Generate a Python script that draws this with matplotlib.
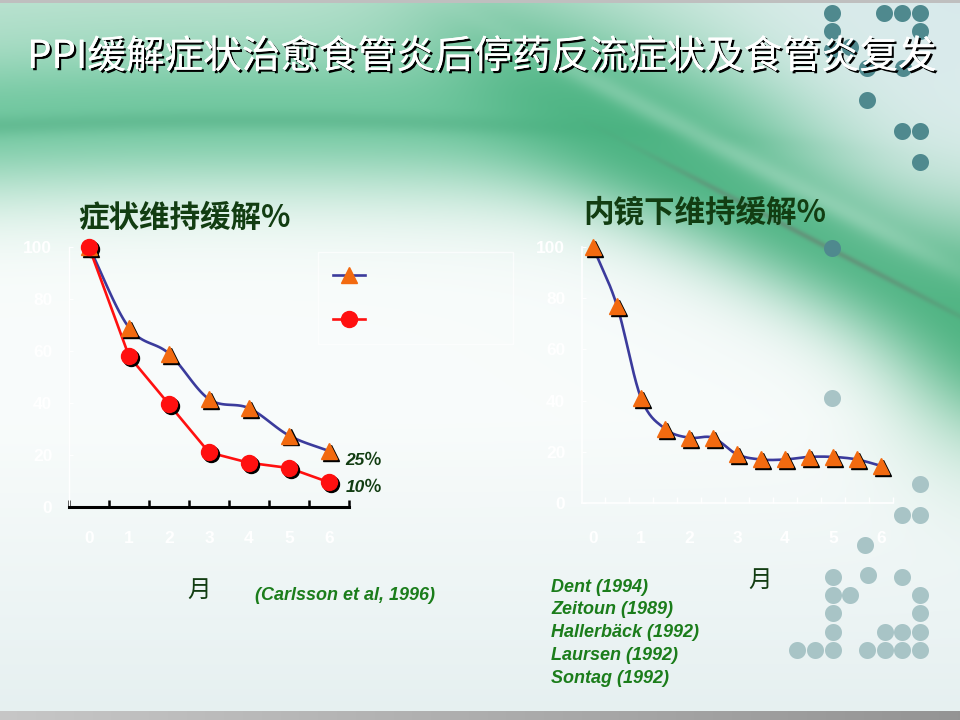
import numpy as np
import matplotlib
matplotlib.use("Agg")
import matplotlib.pyplot as plt
from matplotlib import patheffects as pe
from matplotlib import transforms as mtransforms
from matplotlib.lines import Line2D

# ---------------- data ----------------
title = "PPI缓解症状治愈食管炎后停药反流症状及食管炎复发"
left_title = "症状维持缓解%"
right_title = "内镜下维持缓解%"
x_label = "月"
months = [0, 1, 2, 3, 4, 5, 6]
symptom_triangle = [100, 69, 59, 41.5, 38, 27.5, 21.5]
symptom_circle = [100, 58, 39.5, 21, 17, 15, 9.5]
end_labels = ["25％", "10％"]
endo_months = [0, 0.5, 1, 1.5, 2, 2.5, 3, 3.5, 4, 4.5, 5, 5.5, 6]
endo_values = [100, 77, 41, 29, 25.5, 25.5, 19, 17, 17, 18, 18, 17, 14.5]
y_ticks = [0, 20, 40, 60, 80, 100]
left_source = "(Carlsson et al, 1996)"
citations = ["Dent (1994)", "Zeitoun (1989)", "Hallerbäck (1992)",
             "Laursen (1992)", "Sontag (1992)"]

CJK = ["Noto Sans CJK SC", "DejaVu Sans"]
LAT = ["Liberation Sans", "DejaVu Sans"]
BLUE = "#3b3b9c"
ORANGE = "#f26a10"
RED = "#ff1010"
DKGREEN = "#123d12"
CITE = "#1b7d1b"

W, H = 960, 720
fig = plt.figure(figsize=(9.6, 7.2), dpi=100)

# ---------------- background ----------------
yy, xx = np.mgrid[0:H, 0:W].astype(float)
img = np.empty((H, W, 3))
img[:] = (0.975, 0.988, 0.985)


def blend(im, color, a):
    a = np.clip(a, 0, 1)[..., None]
    return im * (1 - a) + np.array(color) * a


def sig(v):
    return 1.0 / (1.0 + np.exp(-v))


img = blend(img, (0.86, 0.915, 0.92), np.clip((yy - 420) / 320, 0, 1) * 0.7)
img = blend(img, (0.83, 0.905, 0.915),
            0.85 * np.exp(-(((xx - 980) / 330) ** 2 + ((yy + 20) / 260) ** 2)))
# top mint wash
img = blend(img, (0.62, 0.84, 0.74), 0.55 * np.exp(-(yy / 70) ** 2) * sig((720 - xx) / 60))
# broad arc band (left/top)
yA = 112 + 0.00008 * (xx - 260) ** 2
dA = yy - yA
sA = np.where(dA < 0, 85, 80)
aA = 0.85 * np.exp(-(dA / sA) ** 2) * sig((760 - xx) / 60)
img = blend(img, (0.36, 0.75, 0.57), aA)
img = blend(img, (0.25, 0.62, 0.45), 0.3 * np.exp(-((dA - 8) / 10) ** 2) * sig((700 - xx) / 60))
# diagonal swoosh
yB = 160 + 0.52 * (xx - 660)
dB = yy - yB
sB = np.where(dB < 0, 95, 75)
aB = 0.88 * np.exp(-(dB / sB) ** 2) * sig((xx - 470) / 50)
img = blend(img, (0.27, 0.69, 0.49), aB)
img = blend(img, (0.75, 0.90, 0.83), 0.35 * np.exp(-((dB + 45) / 12) ** 2) * sig((xx - 520) / 40))
img = blend(img, (0.42, 0.47, 0.43), 0.5 * np.exp(-(dB / 3.5) ** 2) * sig((xx - 680) / 30))
# right edge glow
aC = 0.75 * np.exp(-((xx - 1000) / 100) ** 2) * np.exp(-((yy - 330) / 120) ** 2)
img = blend(img, (0.30, 0.70, 0.50), aC)
# decorative dots
dark_dots = [(832, 13), (832, 31), (884, 13), (902, 13), (920, 13), (920, 31),
             (832, 50), (850, 47), (867, 68), (903, 68), (867, 100), (902, 131),
             (920, 131), (920, 162), (832, 248)]
light_dots = [(832, 398), (920, 484), (902, 515), (920, 515), (865, 545),
              (833, 577), (868, 575), (902, 577), (833, 595), (850, 595), (920, 595),
              (833, 613), (920, 613), (833, 632), (885, 632), (902, 632), (920, 632),
              (797, 650), (815, 650), (833, 650), (867, 650), (885, 650), (902, 650),
              (920, 650)]
for (cx, cy) in dark_dots:
    d = np.hypot(xx - cx, yy - cy)
    img = blend(img, (0.31, 0.54, 0.56), np.clip(9 - d, 0, 1))
for (cx, cy) in light_dots:
    d = np.hypot(xx - cx, yy - cy)
    img = blend(img, (0.66, 0.77, 0.78), np.clip(9 - d, 0, 1))
# gray bars
img[711:, :] = np.linspace(0.78, 0.58, W)[None, :, None]
img[:3, :] = 0.75

bg = fig.add_axes([0, 0, 1, 1], zorder=-10)
bg.imshow(img, aspect="auto", interpolation="bilinear")
bg.set_axis_off()

# ---------------- titles ----------------
fig.text(482 / W, 1 - 57 / H, title, family=CJK, fontsize=27.8, color="white",
         ha="center", va="center",
         path_effects=[pe.withSimplePatchShadow(offset=(1.6, -1.6), shadow_rgbFace="black", alpha=1.0),
                       pe.Normal()])
fig.text(78 / W, 1 - 218 / H, left_title, family=CJK, fontsize=22, weight="bold",
         color=DKGREEN, ha="left", va="center")
fig.text(583 / W, 1 - 212 / H, right_title, family=CJK, fontsize=22, weight="bold",
         color=DKGREEN, ha="left", va="center")


def catmull(xs, ys, n=20):
    P = np.column_stack([xs, ys]).astype(float)
    P = np.vstack([2 * P[0] - P[1], P, 2 * P[-1] - P[-2]])
    out = []
    t = np.linspace(0, 1, n, endpoint=False)[:, None]
    for i in range(1, len(P) - 2):
        p0, p1, p2, p3 = P[i - 1], P[i], P[i + 1], P[i + 2]
        seg = 0.5 * ((2 * p1) + (-p0 + p2) * t + (2 * p0 - 5 * p1 + 4 * p2 - p3) * t ** 2
                     + (-p0 + 3 * p1 - 3 * p2 + p3) * t ** 3)
        out.append(seg)
    out.append(P[-2][None, :])
    return np.vstack(out)


def markers(ax, x, y, marker, color, ms):
    shadow = mtransforms.offset_copy(ax.transData, fig=fig, x=1.4, y=-1.4, units="points")
    ax.plot(x, y, ls="none", marker=marker, ms=ms, mfc="black", mec="black",
            transform=shadow, clip_on=False, zorder=4)
    ax.plot(x, y, ls="none", marker=marker, ms=ms, mfc=color, mec=color,
            clip_on=False, zorder=5)


# ---------------- left chart ----------------
axL = fig.add_axes([69 / W, (H - 507) / H, 280 / W, 260 / H])
axL.set_facecolor("none")
axL.set_xlim(-0.5, 6.5)
axL.set_ylim(0, 100)
c = catmull(months, symptom_triangle)
axL.plot(c[:, 0], c[:, 1], color=BLUE, lw=1.9, zorder=3, clip_on=False)
axL.plot(months, symptom_circle, color=RED, lw=1.9, zorder=3, clip_on=False)
markers(axL, months, symptom_triangle, "^", ORANGE, 12)
markers(axL, months, symptom_circle, "o", RED, 11.5)
for spine in ["top", "right"]:
    axL.spines[spine].set_visible(False)
axL.spines["bottom"].set_color("black")
axL.spines["bottom"].set_linewidth(2.2)
axL.spines["left"].set_color("white")
axL.spines["left"].set_linewidth(1.0)
axL.set_xticks(months)
axL.set_xticks(np.arange(-0.5, 6.6, 1.0), minor=True)
axL.tick_params(axis="x", which="major", length=0, pad=17, labelcolor="white", labelsize=12.5)
axL.tick_params(axis="x", which="minor", direction="in", length=5, width=1.8, color="black")
axL.set_yticks(y_ticks)
axL.tick_params(axis="y", direction="in", length=3, color="white", labelcolor="white",
                labelsize=12.5, pad=12)
for lab in axL.get_xticklabels() + axL.get_yticklabels():
    lab.set_family(LAT)
    lab.set_weight("bold")
for i, (yv, lab) in enumerate(zip([symptom_triangle[-1], symptom_circle[-1]], end_labels)):
    axL.annotate(lab, xy=(months[-1], yv), xytext=(12, -7 if i == 0 else -4),
                 textcoords="offset points", ha="left", va="center",
                 family=["Liberation Sans", "Noto Sans CJK SC"], fontsize=12.5,
                 weight="bold", style="italic", color=DKGREEN)
handles = [Line2D([], [], color=BLUE, lw=1.9, marker="^", ms=12, mfc=ORANGE, mec=ORANGE),
           Line2D([], [], color=RED, lw=1.9, marker="o", ms=11.5, mfc=RED, mec=RED)]
leg = fig.legend(handles, ["", ""], loc="upper left",
                 bbox_to_anchor=(318 / W, 1 - 252 / H), borderaxespad=0,
                 frameon=True, fancybox=False, fontsize=12, handlelength=1.9,
                 labelspacing=1.55, borderpad=0.9, handletextpad=8)
leg.get_frame().set_facecolor("none")
leg.get_frame().set_edgecolor("white")
leg.get_frame().set_alpha(0.7)
fig.text(199 / W, 1 - 590 / H, x_label, family=CJK, fontsize=17, color=DKGREEN,
         ha="center", va="center")
fig.text(255 / W, 1 - 595 / H, left_source, family=LAT, fontsize=13, weight="bold",
         style="italic", color=CITE, ha="left", va="center")

# ---------------- right chart ----------------
axR = fig.add_axes([582 / W, (H - 503) / H, 311 / W, 256 / H])
axR.set_facecolor("none")
axR.set_xlim(-0.23, 6.21)
axR.set_ylim(0, 100)
c = catmull(endo_months, endo_values)
axR.plot(c[:, 0], c[:, 1], color=BLUE, lw=1.9, zorder=3, clip_on=False)
markers(axR, endo_months, endo_values, "^", ORANGE, 12)
for spine in ["top", "right"]:
    axR.spines[spine].set_visible(False)
for spine in ["bottom", "left"]:
    axR.spines[spine].set_color("white")
    axR.spines[spine].set_linewidth(1.2)
axR.set_xticks(months)
axR.set_xticks(np.arange(0.25, 6.3, 0.5), minor=True)
axR.tick_params(axis="x", which="major", length=0, pad=20, labelcolor="white", labelsize=12.5)
axR.tick_params(axis="x", which="minor", direction="in", length=4, width=1, color="white")
axR.set_yticks(y_ticks)
axR.tick_params(axis="y", direction="in", length=3, color="white", labelcolor="white",
                labelsize=12.5, pad=12)
for lab in axR.get_xticklabels() + axR.get_yticklabels():
    lab.set_family(LAT)
    lab.set_weight("bold")
fig.text(760 / W, 1 - 580 / H, x_label, family=CJK, fontsize=17, color=DKGREEN,
         ha="center", va="center")
for i, cite in enumerate(citations):
    fig.text(551 / W, 1 - (587 + 22.8 * i) / H, cite, family=LAT, fontsize=13,
             weight="bold", style="italic", color=CITE, ha="left", va="center")

fig.savefig("out.png", dpi=100)
